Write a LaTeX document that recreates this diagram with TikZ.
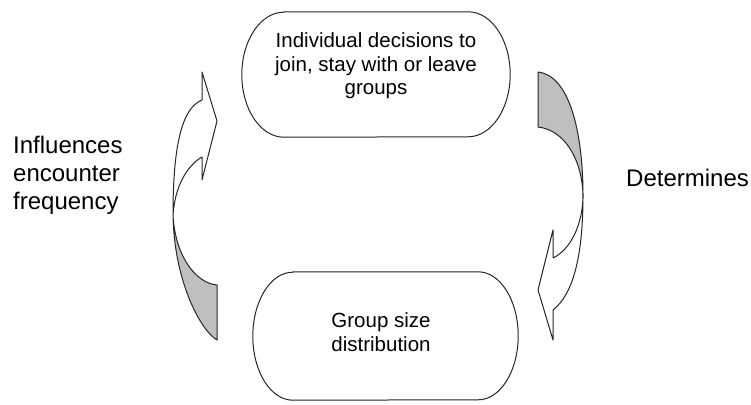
\documentclass[tikz,border=0pt]{standalone}
\usepackage{fontspec}
\setmainfont{Liberation Sans}
\usepackage{tikz}

\tikzset{
    stage/.style={minimum width=268pt, minimum height=125pt, inner sep=0pt},
    stagetext/.style={align=center, inner sep=0pt, font=\fontsize{20.5}{23.5}\selectfont},
    sidetext/.style={align=left, inner sep=0pt, font=\fontsize{24}{28}\selectfont},
    outline/.style={draw=black!85, line width=1pt},
    band/.style={draw=black!85, line width=1pt, line join=round},
}

% box with elliptic ends drawn round a node: name, x radius, y radius
\newcommand{\drawstage}[3]{%
    \draw[outline] ([xshift=#2]#1.north west) -- ([xshift=-#2]#1.north east)
        arc[start angle=90, end angle=-90, x radius=#2, y radius=#3]
        -- ([xshift=#2]#1.south west)
        arc[start angle=270, end angle=90, x radius=#2, y radius=#3] -- cycle;}

\begin{document}
\begin{tikzpicture}[x=1pt, y=-1pt]
    \useasboundingbox (0,0) rectangle (751,404);

    \node[stage] (choice) at (376,74.5) {};
    \node[stage, minimum width=265pt, minimum height=128pt] (sizes) at (385.5,336) {};
    \drawstage{choice}{42pt}{62.5pt}
    \drawstage{sizes}{40pt}{64pt}

    \node[stagetext] (choice text) at (376,66) {Individual decisions to\\join, stay with or leave\\groups};
    \node[stagetext] (sizes text) at (381,332) {Group size\\distribution};

    \node[sidetext, anchor=west] (influence) at (13,175) {Influences\\encounter\\frequency};
    \node[sidetext, anchor=west] (determine) at (626,178) {Determines};

    % twisted band on the left, pointing up to the decisions
    \coordinate (lpinch) at (173,215);
    \filldraw[band, fill=gray!50] (lpinch) .. controls (174,280) and (200,330) .. (217,340)
        -- (217,285) .. controls (195,283) and (175,255) .. (lpinch) -- cycle;
    \filldraw[band, fill=white] (lpinch) .. controls (173,145) and (182,108) .. (202,100)
        -- (202,72) -- (217,121) -- (202,180) -- (202,157)
        .. controls (188,165) and (175,185) .. (lpinch) -- cycle;

    % twisted band on the right, pointing down to the distribution
    \coordinate (rpinch) at (583,195);
    \filldraw[band, fill=gray!50] (538,72) -- (538,127) .. controls (565,130) and (582,160) .. (rpinch)
        .. controls (583,140) and (572,76) .. (538,72) -- cycle;
    \filldraw[band, fill=white] (rpinch) .. controls (583,225) and (570,250) .. (553,258)
        -- (553,230) -- (538,290) -- (553,340) -- (553,310)
        .. controls (572,295) and (583,260) .. (rpinch) -- cycle;
\end{tikzpicture}
\end{document}
